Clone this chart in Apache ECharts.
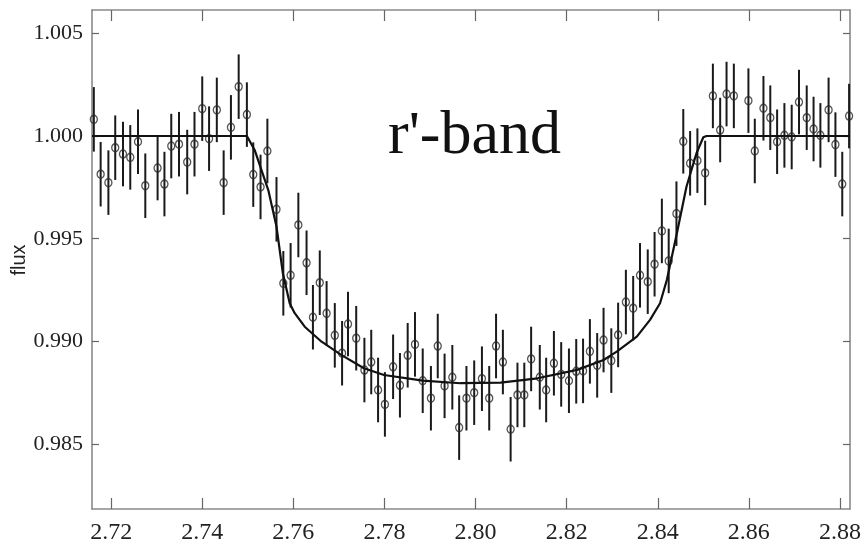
<!DOCTYPE html>
<html>
<head>
<meta charset="utf-8">
<script src="https://cdn.jsdelivr.net/npm/echarts@6/dist/echarts.min.js"></script>
<style>html,body{margin:0;padding:0;background:#fff}#c{width:863px;height:550px}</style>
</head>
<body>
<div id="c"></div>
<script>
// ---- data ----
const obsX = [2.7162,2.7177,2.7194,2.7209,2.7226,2.7242,2.7259,2.7275,2.7302,2.7317,
2.7332,2.7349,2.7367,2.7383,2.7400,2.7415,2.7432,2.7447,2.7463,2.7480,
2.7498,2.7512,2.7528,2.7543,2.7563,2.7578,2.7594,2.7611,2.7629,2.7643,
2.7658,2.7673,2.7691,2.7707,2.7720,2.7738,2.7756,2.7771,2.7786,2.7801,
2.7819,2.7834,2.7851,2.7867,2.7884,2.7902,2.7917,2.7932,2.7949,2.7964,
2.7980,2.7997,2.8014,2.8030,2.8045,2.8060,2.8077,2.8092,2.8107,2.8122,
2.8141,2.8155,2.8172,2.8188,2.8205,2.8221,2.8236,2.8251,2.8267,2.8281,
2.8298,2.8313,2.8330,2.8346,2.8361,2.8378,2.8393,2.8409,2.8424,2.8441,
2.8456,2.8471,2.8487,2.8504,2.8521,2.8537,2.8551,2.8567,2.8599,2.8613,
2.8632,2.8647,2.8662,2.8678,2.8694,2.8710,2.8727,2.8742,2.8757,2.8775,
2.8790,2.8805,2.8820];
const obsY = [1.00081,0.99814,0.99773,0.99943,0.99912,0.99896,0.99972,0.99758,0.99844,0.99766,
0.99951,0.99960,0.99873,0.99960,1.00133,0.99987,1.00127,0.99773,1.00042,1.00240,
1.00104,0.99812,0.99752,0.99927,0.99643,0.99283,0.99322,0.99567,0.99383,0.99118,
0.99286,0.99137,0.99030,0.98943,0.99085,0.99016,0.98861,0.98900,0.98764,0.98694,
0.98877,0.98787,0.98933,0.98986,0.98809,0.98724,0.98978,0.98784,0.98826,0.98581,
0.98724,0.98751,0.98819,0.98724,0.98978,0.98900,0.98573,0.98740,0.98740,0.98915,
0.98826,0.98764,0.98894,0.98840,0.98809,0.98855,0.98857,0.98952,0.98884,0.99007,
0.98907,0.99032,0.99192,0.99162,0.99322,0.99291,0.99376,0.99538,0.99392,0.99622,
0.99974,0.99867,0.99880,0.99820,1.00195,1.00029,1.00204,1.00195,1.00172,0.99927,
1.00135,1.00089,0.99972,1.00003,0.99995,1.00165,1.00089,1.00034,1.00003,1.00127,
0.99958,0.99766,1.00097];
const obsErr = 0.00157;

const modelX = [2.7158,2.7498,2.7515,2.7545,2.7563,2.7577,2.7592,2.7603,2.7625,2.7662,
2.7705,2.7755,2.7799,2.7884,2.7967,2.8055,2.8136,2.8223,2.8281,2.8310,
2.8354,2.8383,2.8405,2.8420,2.8442,2.8463,2.8485,2.8500,2.8507,2.8822];
const modelY = [1.00000,1.00000,0.99932,0.99737,0.99559,0.99332,0.99186,0.99138,0.99072,0.98999,
0.98935,0.98870,0.98837,0.98810,0.98797,0.98800,0.98821,0.98862,0.98910,0.98951,
0.99024,0.99105,0.99186,0.99300,0.99527,0.99753,0.99916,0.99994,1.00000,1.00000];

const xTicks = [2.72,2.74,2.76,2.78,2.80,2.82,2.84,2.86,2.88];
const yTicks = [0.985,0.990,0.995,1.000,1.005];
const xRange = [2.7158, 2.8822];
const yRange = [0.98185, 1.00613];

// ---- chart ----
const chart = echarts.init(document.getElementById('c'), null, {renderer:'canvas'});
const serif = '"Liberation Serif","Times New Roman",serif';
const frameColor = '#8a8a8a';
const xFmt = v => v.toFixed(2);
const yFmt = v => v.toFixed(3);

const pts = obsX.map((x,i)=>[x, obsY[i]]);
const model = modelX.map((x,i)=>[x, modelY[i]]);

chart.setOption({
  animation:false,
  backgroundColor:'#fff',
  grid:{left:92, right:13, top:10, bottom:41, containLabel:false, outerBoundsMode:'none'},
  xAxis:[{
    type:'value', min:xRange[0], max:xRange[1], position:'bottom',
    axisLine:{show:true, onZero:false, lineStyle:{color:frameColor, width:1.6}},
    axisTick:{show:true, inside:true, length:11, customValues:xTicks, lineStyle:{color:'#666', width:1.2}},
    axisLabel:{show:true, customValues:xTicks, formatter:xFmt, fontFamily:serif, fontSize:24, color:'#222', margin:12},
    splitLine:{show:false}
  },{
    type:'value', min:xRange[0], max:xRange[1], position:'top',
    axisLine:{show:true, onZero:false, lineStyle:{color:frameColor, width:1.6}},
    axisTick:{show:true, inside:true, length:11, customValues:xTicks, lineStyle:{color:'#666', width:1.2}},
    axisLabel:{show:false}, splitLine:{show:false}
  }],
  yAxis:[{
    type:'value', min:yRange[0], max:yRange[1], position:'left',
    axisLine:{show:true, onZero:false, lineStyle:{color:frameColor, width:1.6}},
    axisTick:{show:true, inside:true, length:7, customValues:yTicks, lineStyle:{color:'#666', width:1.2}},
    axisLabel:{show:true, customValues:yTicks, formatter:yFmt, fontFamily:serif, fontSize:22, color:'#222', margin:9},
    splitLine:{show:false}
  },{
    type:'value', min:yRange[0], max:yRange[1], position:'right',
    axisLine:{show:true, onZero:false, lineStyle:{color:frameColor, width:1.6}},
    axisTick:{show:true, inside:true, length:7, customValues:yTicks, lineStyle:{color:'#666', width:1.2}},
    axisLabel:{show:false}, splitLine:{show:false}
  }],
  graphic:[{
    type:'text', x:19, y:260, rotation:Math.PI/2, z:100,
    style:{text:'flux', font:'20px "Liberation Sans",Arial,sans-serif', fill:'#222', align:'center', verticalAlign:'middle'}
  },{
    type:'text', left:388, top:106, z:100,
    style:{text:"r'-band", font:'62px "Liberation Serif","Times New Roman",serif', fill:'#111'}
  }],
  series:[{
    type:'custom', xAxisIndex:0, yAxisIndex:0, z:3,
    data:pts,
    renderItem:function(params, api){
      const x = api.value(0), y = api.value(1);
      const p1 = api.coord([x, y - obsErr]);
      const p2 = api.coord([x, y + obsErr]);
      return {type:'line', shape:{x1:p1[0], y1:p1[1], x2:p2[0], y2:p2[1]},
        style:{stroke:'#1a1a1a', lineWidth:2}};
    }
  },{
    type:'scatter', xAxisIndex:0, yAxisIndex:0, z:4,
    data:pts, symbol:'circle', symbolSize:[7,8],
    itemStyle:{color:'rgba(255,255,255,0)', borderColor:'#2a2a2a', borderWidth:1.4}
  },{
    type:'line', xAxisIndex:0, yAxisIndex:0, z:5,
    data:model, showSymbol:false, smooth:false,
    lineStyle:{color:'#111', width:2.2}
  }]
});
</script>
</body>
</html>
